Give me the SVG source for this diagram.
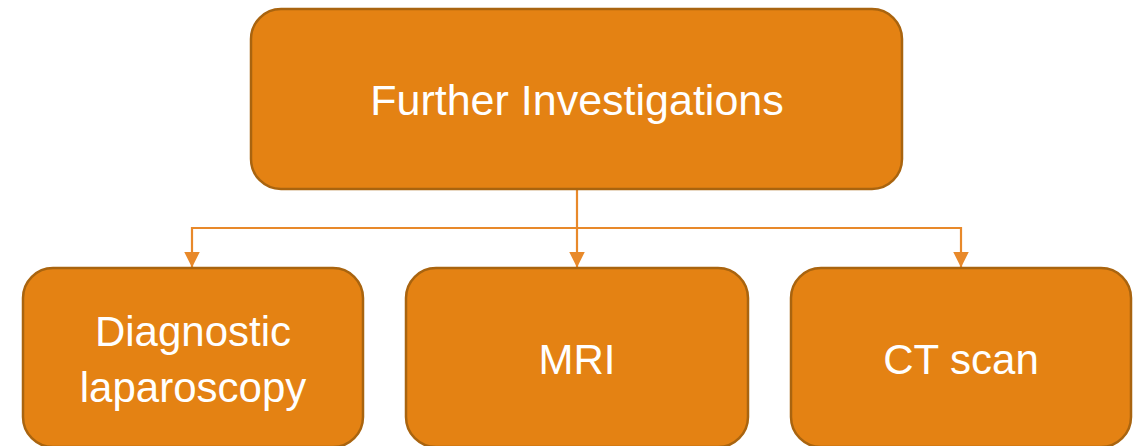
<svg xmlns="http://www.w3.org/2000/svg" width="1145" height="446" viewBox="0 0 1145 446">
  <defs>
    <style>
      .box { fill: #E48213; stroke: #A9640F; stroke-width: 2.5; }
      .lbl { font-family: "Liberation Sans", Arial, sans-serif; font-size: 42px; fill: #FFFFFF; text-anchor: middle; }
      .conn { fill: none; stroke: #E8892A; stroke-width: 2.2; }
    </style>
    <marker id="arrow" viewBox="0 0 16 16" refX="15.5" refY="8" markerWidth="16" markerHeight="16" markerUnits="userSpaceOnUse" orient="auto">
      <path d="M0,0 L16,8 L0,16 Z" fill="#E8892A"/>
    </marker>
  </defs>
  <rect width="1145" height="446" fill="#FFFFFF"/>
  <g id="connectors">
    <path class="conn" d="M577,189 L577,267" marker-end="url(#arrow)"/>
    <path class="conn" d="M192,228 L961,228"/>
    <path class="conn" d="M192,227 L192,267" marker-end="url(#arrow)"/>
    <path class="conn" d="M961,227 L961,267" marker-end="url(#arrow)"/>
  </g>
  <g id="further-investigations">
    <rect class="box" x="251" y="9" width="651" height="180" rx="30" ry="30"/>
    <text class="lbl" x="577" y="115" style="font-size:43px">Further Investigations</text>
  </g>
  <g id="diagnostic-laparoscopy">
    <rect class="box" x="23" y="268" width="340" height="179" rx="30" ry="30"/>
    <text class="lbl" x="193" y="346">Diagnostic</text>
    <text class="lbl" x="193" y="402">laparoscopy</text>
  </g>
  <g id="mri">
    <rect class="box" x="406" y="268" width="342" height="179" rx="30" ry="30"/>
    <text class="lbl" x="577" y="374">MRI</text>
  </g>
  <g id="ct-scan">
    <rect class="box" x="791" y="268" width="340" height="179" rx="30" ry="30"/>
    <text class="lbl" x="961" y="374">CT scan</text>
  </g>
</svg>
